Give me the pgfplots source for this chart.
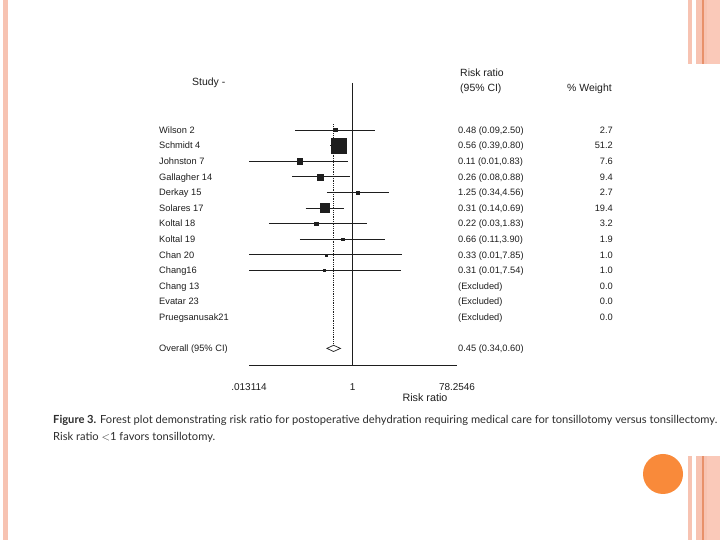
\documentclass[border=0pt]{standalone}
\usepackage{pgfplots}
\pgfplotsset{compat=1.18}
\usepackage{pgfplotstable}
\usepackage{fontspec}
\setmainfont{Liberation Sans}
\newfontfamily\capfont{Lato}
\definecolor{stripe}{HTML}{F7C3B2}
\definecolor{stripeB}{HTML}{FAC9B9}
\definecolor{stripedark}{HTML}{E8916B}
\definecolor{dot}{HTML}{F98A3A}
\definecolor{ink}{HTML}{1E1E1E}
\definecolor{capink}{HTML}{2E2E2E}

% row, risk ratio, lower and upper 95% CI, % weight
\pgfplotstableread{
row rr   lo   hi   w
0   0.48 0.09 2.50 2.7
1   0.56 0.39 0.80 51.2
2   0.11 0.01 0.83 7.6
3   0.26 0.08 0.88 9.4
4   1.25 0.34 4.56 2.7
5   0.31 0.14 0.69 19.4
6   0.22 0.03 1.83 3.2
7   0.66 0.11 3.90 1.9
8   0.33 0.01 7.85 1.0
9   0.31 0.01 7.54 1.0
}\studies

\begin{document}
\begin{tikzpicture}
\begin{scope}[x=1bp,y=1bp]
\path[use as bounding box] (0,0) rectangle (720,540);
\fill[white] (0,0) rectangle (720,540);
% slide decoration
\fill[stripe] (3,0) rectangle (8,540);
\foreach \ya/\yb in {476/540, 0/84} {
  \fill[stripe] (688,\ya) rectangle (692,\yb);
  \fill[stripe] (696,\ya) rectangle (707,\yb);
  \fill[stripeB] (707,\ya) rectangle (720,\yb);
  \fill[stripedark] (702,\ya) rectangle (703.5,\yb);
}
\fill[dot] (663,66) circle (20);
\end{scope}

\begin{axis}[
    at={(249bp,175bp)}, anchor=south west,
    scale only axis,
    width=208bp, height=282bp,
    xmode=log,
    xmin=0.013114, xmax=78.2546,
    ymin=-15.064, ymax=3.013,
    axis x line*=bottom,
    axis y line=none,
    x axis line style={-, ink, line width=0.9pt},
    xtick={0.013114,1,78.2546},
    xticklabels={.013114,1,78.2546},
    major tick length=0pt,
    x tick label style={font=\fontsize{10}{12}\selectfont, text=ink, yshift=-15bp},
    ]
    % line of no effect
    \addplot[ink, line width=0.9pt] coordinates {(1,3.013) (1,-15.064)};
    % overall estimate
    \addplot[ink, densely dotted, line width=0.8pt] coordinates {(0.45,0.38) (0.45,-13.8)};
    % confidence intervals
    \addplot[ink, line width=0.8pt] coordinates {(0.09,0) (2.50,0)};
    \addplot[ink, line width=0.8pt] coordinates {(0.39,-1) (0.80,-1)};
    \addplot[ink, line width=0.8pt] coordinates {(0.01,-2) (0.83,-2)};
    \addplot[ink, line width=0.8pt] coordinates {(0.08,-3) (0.88,-3)};
    \addplot[ink, line width=0.8pt] coordinates {(0.34,-4) (4.56,-4)};
    \addplot[ink, line width=0.8pt] coordinates {(0.14,-5) (0.69,-5)};
    \addplot[ink, line width=0.8pt] coordinates {(0.03,-6) (1.83,-6)};
    \addplot[ink, line width=0.8pt] coordinates {(0.11,-7) (3.90,-7)};
    \addplot[ink, line width=0.8pt] coordinates {(0.01,-8) (7.85,-8)};
    \addplot[ink, line width=0.8pt] coordinates {(0.01,-9) (7.54,-9)};
    % weighted squares
    \addplot[only marks, mark=square*, scatter,
        scatter/use mapped color={draw=ink, fill=ink},
        visualization depends on={sqrt(\thisrow{w}) \as \msize},
        scatter/@pre marker code/.append style={/tikz/mark size=\msize}]
        table[x=rr, y expr=-\thisrow{row}] {\studies};
    % pooled diamond
    \addplot[ink, fill=white, line width=0.7pt] coordinates
        {(0.34,-14) (0.45,-13.8) (0.60,-14) (0.45,-14.2)} -- cycle;
\end{axis}

\begin{scope}[x=1bp,y=1bp, every node/.style={inner sep=0pt, text=ink}]
\node[anchor=west, font=\fontsize{10.5}{12}\selectfont] at (192,457) {Study -};
\node[anchor=base west, font=\fontsize{10.5}{12}\selectfont] at (460,463.5) {Risk ratio};
\node[anchor=base west, font=\fontsize{10.5}{12}\selectfont] at (460,448.5) {(95\% CI)};
\node[anchor=base west, font=\fontsize{10.5}{12}\selectfont] at (567,448.5) {\% Weight};
\foreach \name/\ci/\wt [count=\i from 0] in {
    Wilson 2/0.48 (0.09{,}2.50)/2.7,
    Schmidt 4/0.56 (0.39{,}0.80)/51.2,
    Johnston 7/0.11 (0.01{,}0.83)/7.6,
    Gallagher 14/0.26 (0.08{,}0.88)/9.4,
    Derkay 15/1.25 (0.34{,}4.56)/2.7,
    Solares 17/0.31 (0.14{,}0.69)/19.4,
    Koltal 18/0.22 (0.03{,}1.83)/3.2,
    Koltal 19/0.66 (0.11{,}3.90)/1.9,
    Chan 20/0.33 (0.01{,}7.85)/1.0,
    Chang16/0.31 (0.01{,}7.54)/1.0,
    Chang 13/(Excluded)/0.0,
    Evatar 23/(Excluded)/0.0,
    Pruegsanusak21/(Excluded)/0.0} {
  \node[anchor=base west, font=\fontsize{9.3}{11}\selectfont] at (159,406.7-15.6*\i) {\name};
  \node[anchor=base west, font=\fontsize{9.3}{11}\selectfont] at (458,406.7-15.6*\i) {\ci};
  \node[anchor=base east, font=\fontsize{9.3}{11}\selectfont] at (613,406.7-15.6*\i) {\wt};
}
\node[anchor=base west, font=\fontsize{9.3}{11}\selectfont] at (159,188.3) {Overall (95\% CI)};
\node[anchor=base west, font=\fontsize{9.3}{11}\selectfont] at (458,188.3) {0.45 (0.34,0.60)};
\node[font=\fontsize{10.8}{12}\selectfont] at (425,142) {Risk ratio};
% caption
\node[anchor=base west, text=capink, font=\capfont\fontsize{11.2}{13}\selectfont] at (53,116)
  {\textbf{Figure 3.} Forest plot demonstrating risk ratio for postoperative dehydration requiring medical care for tonsillotomy versus tonsillectomy.};
\node[anchor=base west, text=capink, font=\capfont\fontsize{11.2}{13}\selectfont] at (53,99)
  {Risk ratio $<$1 favors tonsillotomy.};
\end{scope}
\end{tikzpicture}
\end{document}
